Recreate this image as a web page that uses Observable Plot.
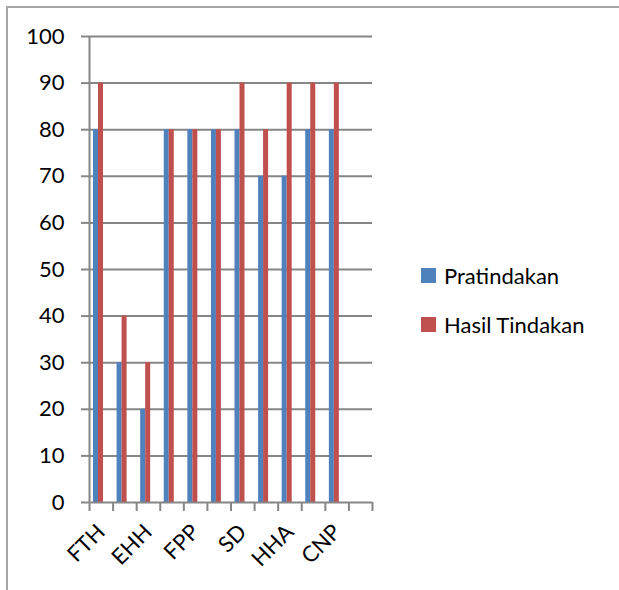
<!DOCTYPE html>
<html>
<head>
<meta charset="utf-8">
<script src="https://cdn.jsdelivr.net/npm/d3@7"></script>
<script src="https://cdn.jsdelivr.net/npm/@observablehq/plot@0.6"></script>
<style>
  html, body { margin: 0; padding: 0; background: #fff; }
  #wrap { position: relative; width: 619px; height: 590px; overflow: hidden; font-family: Lato, "Open Sans", sans-serif; }
  #frame { position: absolute; left: 6px; top: 6px; width: 640px; height: 640px; border-left: 2px solid #a6a6a6; border-top: 2px solid #a6a6a6; box-sizing: border-box; }
  #chart { position: absolute; left: 0; top: 0; }
  #legend { position: absolute; left: 421px; top: 251px; font-size: 22px; color: #000; }
  .item { display: flex; align-items: center; height: 49px; }
  .sw { width: 15px; height: 15px; margin-right: 8px; }
</style>
</head>
<body>
<div id="wrap">
  <div id="frame"></div>
  <div id="chart"></div>
  <div id="legend"></div>
</div>
<script>
// Category labels (Excel shows every other label; hidden ones are blank)
const labels = ["FTH", "", "EHH", "", "FPP", "", "SD", "", "HHA", "", "CNP", ""];
const seriesNames = ["Pratindakan", "Hasil Tindakan"];
const pratindakan = [80, 30, 20, 80, 80, 80, 80, 70, 70, 80, 80];
const hasilTindakan = [90, 40, 30, 80, 80, 80, 90, 80, 90, 90, 90];
const yTicks = [0, 10, 20, 30, 40, 50, 60, 70, 80, 90, 100];
const colors = ["#4F81BD", "#C0504D"];

const rows = [];
pratindakan.forEach((v, i) => rows.push({i, series: seriesNames[0], s: 0, value: v}));
hasilTindakan.forEach((v, i) => rows.push({i, series: seriesNames[1], s: 1, value: v}));

const nSlots = labels.length;
const barStart = 0.17, barW = 0.212;
const gray = "#868686";

const chart = Plot.plot({
  width: 619,
  height: 590,
  marginLeft: 89,
  marginRight: 247,
  marginTop: 36,
  marginBottom: 88,
  style: {fontFamily: "Lato, 'Open Sans', sans-serif", fontSize: "22px", color: "#000", background: "transparent"},
  x: {type: "linear", domain: [0, nSlots], axis: null},
  y: {type: "linear", domain: [0, 100], axis: null},
  color: {domain: seriesNames, range: colors},
  marks: [
    Plot.gridY(yTicks.filter(d => d > 0), {stroke: gray, strokeOpacity: 1, strokeWidth: 2}),
    Plot.rectY(rows, {
      x1: d => d.i + barStart + d.s * barW,
      x2: d => d.i + barStart + (d.s + 1) * barW,
      y1: 0,
      y2: "value",
      fill: "series"
    }),
    Plot.ruleY([0], {stroke: gray, strokeWidth: 2}),
    Plot.ruleX([0], {stroke: gray, strokeWidth: 2}),
    Plot.axisY({ticks: yTicks, tickSize: 8, tickPadding: 17, stroke: gray, strokeWidth: 2, strokeOpacity: 1, label: null, fill: "#000", fontSize: 22}),
    Plot.axisX({ticks: d3.range(0, nSlots + 1), tickSize: 9, tickFormat: () => "", stroke: gray, strokeWidth: 2, strokeOpacity: 1, label: null}),
    Plot.axisX({ticks: d3.range(0, nSlots).map(i => i + 0.5), tickSize: 0, tickPadding: 26, tickRotate: -45, tickFormat: t => labels[Math.floor(t)], label: null, fill: "#000", fontSize: 22})
  ]
});
document.getElementById("chart").appendChild(chart);

const legend = document.getElementById("legend");
seriesNames.forEach((name, k) => {
  const item = document.createElement("div");
  item.className = "item";
  const sw = document.createElement("div");
  sw.className = "sw";
  sw.style.background = colors[k];
  const tx = document.createElement("span");
  tx.textContent = name;
  item.appendChild(sw);
  item.appendChild(tx);
  legend.appendChild(item);
});
</script>
</body>
</html>
